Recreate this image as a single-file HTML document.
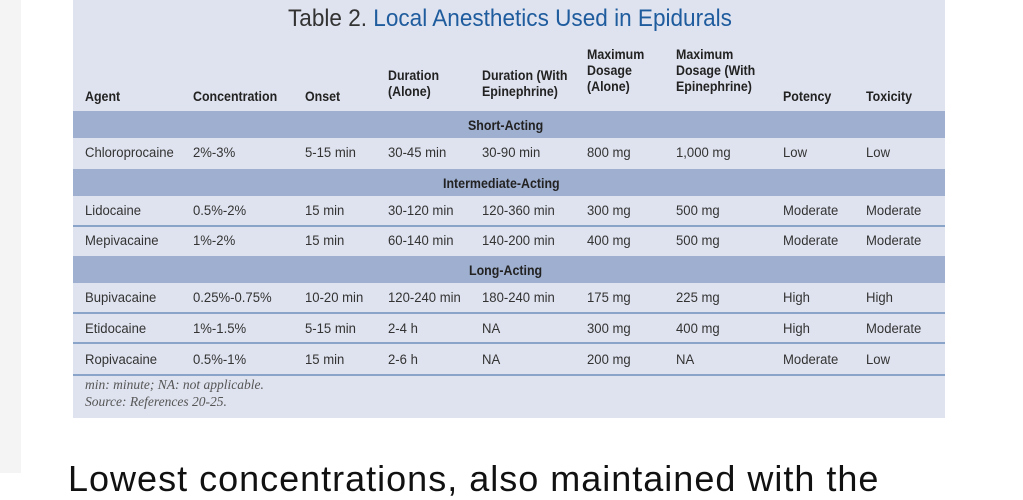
<!DOCTYPE html>
<html><head><meta charset="utf-8"><style>
*{margin:0;padding:0;box-sizing:border-box}
body{width:1023px;height:473px;background:#fff;position:relative;overflow:hidden;font-family:"Liberation Sans",sans-serif}
.strip{position:absolute;left:0;top:0;width:21px;height:473px;background:#f4f4f4}
.panel{position:absolute;left:73px;top:0;width:872px;height:418px;background:#dfe3ef}
.band{position:absolute;left:73px;width:872px;background:#9fafcf;height:27px}
.line{position:absolute;left:73px;width:872px;height:2px;background:#8aa3c9}
.t{position:absolute;font-size:13.5px;color:#333;white-space:nowrap;transform:scaleX(.97);transform-origin:left center;line-height:16px}
.h{font-weight:bold;color:#222;transform:scaleX(.92)}
.title{position:absolute;left:288px;top:5px;font-size:24px;color:#333;white-space:nowrap;transform:scaleX(.94);transform-origin:left top}
.title span{color:#1f5c9e}
.fn{position:absolute;left:85px;font-family:"Liberation Serif",serif;font-style:italic;font-size:13.5px;color:#555;white-space:nowrap}
.big{position:absolute;left:68px;top:458px;font-size:36px;color:#111;white-space:nowrap;letter-spacing:1px}
</style></head><body>
<div class="strip"></div>
<div class="panel"></div>
<div class="title">Table 2. <span>Local Anesthetics Used in Epidurals</span></div>

<div class="t h" style="left:85px;top:89px">Agent</div>
<div class="t h" style="left:193px;top:89px">Concentration</div>
<div class="t h" style="left:305px;top:89px">Onset</div>
<div class="t h" style="left:388px;top:68px">Duration<br>(Alone)</div>
<div class="t h" style="left:482px;top:68px">Duration (With<br>Epinephrine)</div>
<div class="t h" style="left:587px;top:47px">Maximum<br>Dosage<br>(Alone)</div>
<div class="t h" style="left:676px;top:47px">Maximum<br>Dosage (With<br>Epinephrine)</div>
<div class="t h" style="left:783px;top:89px">Potency</div>
<div class="t h" style="left:866px;top:89px">Toxicity</div>

<div class="band" style="top:111px"></div>
<div class="t h" style="left:468px;top:118px">Short-Acting</div>
<div class="band" style="top:169px"></div>
<div class="t h" style="left:443px;top:176px">Intermediate-Acting</div>
<div class="band" style="top:256px"></div>
<div class="t h" style="left:469px;top:263px">Long-Acting</div>

<div class="line" style="top:225px"></div>
<div class="line" style="top:312px"></div>
<div class="line" style="top:342px"></div>
<div class="line" style="top:374px"></div>

<div class="t" style="left:85px;top:145px">Chloroprocaine</div><div class="t" style="left:193px;top:145px">2%-3%</div><div class="t" style="left:305px;top:145px">5-15 min</div><div class="t" style="left:388px;top:145px">30-45 min</div><div class="t" style="left:482px;top:145px">30-90 min</div><div class="t" style="left:587px;top:145px">800 mg</div><div class="t" style="left:676px;top:145px">1,000 mg</div><div class="t" style="left:783px;top:145px">Low</div><div class="t" style="left:866px;top:145px">Low</div>

<div class="t" style="left:85px;top:203px">Lidocaine</div><div class="t" style="left:193px;top:203px">0.5%-2%</div><div class="t" style="left:305px;top:203px">15 min</div><div class="t" style="left:388px;top:203px">30-120 min</div><div class="t" style="left:482px;top:203px">120-360 min</div><div class="t" style="left:587px;top:203px">300 mg</div><div class="t" style="left:676px;top:203px">500 mg</div><div class="t" style="left:783px;top:203px">Moderate</div><div class="t" style="left:866px;top:203px">Moderate</div>

<div class="t" style="left:85px;top:233px">Mepivacaine</div><div class="t" style="left:193px;top:233px">1%-2%</div><div class="t" style="left:305px;top:233px">15 min</div><div class="t" style="left:388px;top:233px">60-140 min</div><div class="t" style="left:482px;top:233px">140-200 min</div><div class="t" style="left:587px;top:233px">400 mg</div><div class="t" style="left:676px;top:233px">500 mg</div><div class="t" style="left:783px;top:233px">Moderate</div><div class="t" style="left:866px;top:233px">Moderate</div>

<div class="t" style="left:85px;top:290px">Bupivacaine</div><div class="t" style="left:193px;top:290px">0.25%-0.75%</div><div class="t" style="left:305px;top:290px">10-20 min</div><div class="t" style="left:388px;top:290px">120-240 min</div><div class="t" style="left:482px;top:290px">180-240 min</div><div class="t" style="left:587px;top:290px">175 mg</div><div class="t" style="left:676px;top:290px">225 mg</div><div class="t" style="left:783px;top:290px">High</div><div class="t" style="left:866px;top:290px">High</div>

<div class="t" style="left:85px;top:321px">Etidocaine</div><div class="t" style="left:193px;top:321px">1%-1.5%</div><div class="t" style="left:305px;top:321px">5-15 min</div><div class="t" style="left:388px;top:321px">2-4 h</div><div class="t" style="left:482px;top:321px">NA</div><div class="t" style="left:587px;top:321px">300 mg</div><div class="t" style="left:676px;top:321px">400 mg</div><div class="t" style="left:783px;top:321px">High</div><div class="t" style="left:866px;top:321px">Moderate</div>

<div class="t" style="left:85px;top:352px">Ropivacaine</div><div class="t" style="left:193px;top:352px">0.5%-1%</div><div class="t" style="left:305px;top:352px">15 min</div><div class="t" style="left:388px;top:352px">2-6 h</div><div class="t" style="left:482px;top:352px">NA</div><div class="t" style="left:587px;top:352px">200 mg</div><div class="t" style="left:676px;top:352px">NA</div><div class="t" style="left:783px;top:352px">Moderate</div><div class="t" style="left:866px;top:352px">Low</div>

<div class="fn" style="top:377px">min: minute; NA: not applicable.</div>
<div class="fn" style="top:394px">Source: References 20-25.</div>

<div class="big">Lowest concentrations, also maintained with the</div>
</body></html>
